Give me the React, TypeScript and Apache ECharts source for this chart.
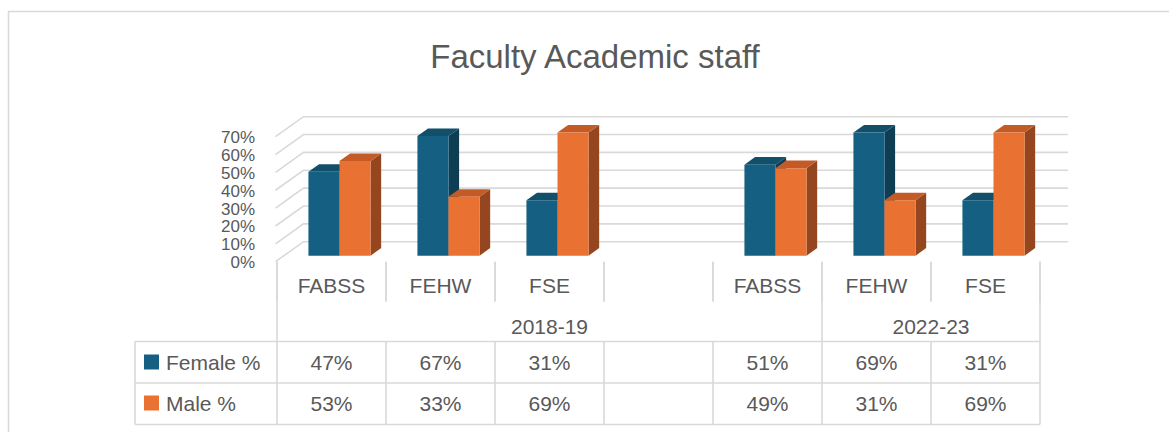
import React, { useEffect, useRef } from "react";
import * as echarts from "echarts";

const categories = ["FABSS", "FEHW", "FSE", "", "FABSS", "FEHW", "FSE"];
const groupLabels = ["2018-19", "2022-23"];
const groupSpans = [5, 2];
const seriesNames = ["Female %", "Male %"];
const femaleValues = [47, 67, 31, null, 51, 69, 31];
const maleValues = [53, 33, 69, null, 49, 31, 69];
const yMin = 0;
const yMax = 70;
const yInterval = 10;
const yTickValues = [0, 10, 20, 30, 40, 50, 60, 70];

const FONT = "Liberation Sans";
const FS = 21;
const TXT = "#595959";
const GRID_C = "#D9D9D9";
const faces = [
  { front: "#156082", top: "#114F6B", side: "#0D3E54" },
  { front: "#E97132", top: "#C45B26", side: "#95461E" },
];

// layout
const W = 1169;
const H = 432;
const GL = 277;
const GR = 1040;
const GT = 136.7;
const GB = 261.7;
const DX = 28;
const DY = -20;
const BAR_OX = 8;
const BAR_OY = -6;
const BAR_DX = 10.6;
const BAR_DY = -7.6;
const BAR_FRAC = 0.285;

export default function App() {
  const ref = useRef<HTMLDivElement>(null);
  useEffect(() => {
    document.body.style.margin = "0";
    if (!ref.current) return;
    const chart = echarts.init(ref.current, undefined, { renderer: "svg" });

    const wallRender = (params: any, api: any) => {
      const cs = params.coordSys;
      const v = api.value(0);
      const y = api.coord([0, v])[1];
      const x0 = cs.x - 1.5;
      return {
        type: "group",
        children: [
          {
            type: "polyline",
            shape: {
              points: [
                [x0, y],
                [x0 + DX, y + DY],
                [cs.x + cs.width + DX, y + DY],
              ],
            },
            style: { stroke: GRID_C, lineWidth: 1.6, fill: "none" },
            silent: true,
          },
          {
            type: "text",
            x: cs.x - 22,
            y: y + 1,
            style: {
              text: `${v}%`,
              font: `17px "${FONT}"`,
              fill: TXT,
              align: "right",
              verticalAlign: "middle",
              lineHeight: 16,
            },
          },
        ],
      };
    };

    const barRender = (si: number) => (params: any, api: any) => {
      const i = api.value(0);
      const v = api.value(1);
      if (v == null || isNaN(v)) return null;
      const top = api.coord([i, v]);
      const base = api.coord([i, 0]);
      const band = api.size([1, 0])[0];
      const bw = band * BAR_FRAC;
      const cx = top[0];
      const x0 = (si === 0 ? cx - bw : cx) + BAR_OX;
      const yt = top[1] + BAR_OY;
      const yb = base[1] + BAR_OY;
      const f = faces[si];
      return {
        type: "group",
        children: [
          {
            type: "polygon",
            shape: {
              points: [
                [x0 + bw, yt],
                [x0 + bw + BAR_DX, yt + BAR_DY],
                [x0 + bw + BAR_DX, yb + BAR_DY],
                [x0 + bw, yb],
              ],
            },
            style: { fill: f.side },
          },
          {
            type: "polygon",
            shape: {
              points: [
                [x0, yt],
                [x0 + bw, yt],
                [x0 + bw + BAR_DX, yt + BAR_DY],
                [x0 + BAR_DX, yt + BAR_DY],
              ],
            },
            style: { fill: f.top },
          },
          {
            type: "rect",
            shape: { x: x0, y: yt, width: bw, height: yb - yt },
            style: { fill: f.front },
          },
        ],
      };
    };

    const colW = (GR - GL) / categories.length;
    const colX = (k: number) => GL + k * colW;
    const rowTop = GB;
    const rowCat = 301;
    const rowGrp = 341.5;
    const row1 = 383;
    const row2 = 424.5;
    const tableLeft = 135;
    const lineStyle = { stroke: GRID_C, lineWidth: 1.6 };
    const g: any[] = [];
    g.push({
      type: "rect",
      shape: { x: 8.5, y: 11.5, width: 1300, height: 600 },
      style: { stroke: GRID_C, lineWidth: 1.5, fill: "none" },
      silent: true,
    });
    g.push({
      type: "text",
      x: 595,
      y: 56,
      style: {
        text: "Faculty Academic staff",
        font: `33px "${FONT}"`,
        fill: TXT,
        align: "center",
        verticalAlign: "middle",
      },
    });
    [rowGrp, row1, row2].forEach((y) =>
      g.push({ type: "line", shape: { x1: tableLeft, y1: y, x2: GR, y2: y }, style: lineStyle })
    );
    g.push({ type: "line", shape: { x1: tableLeft, y1: rowGrp, x2: tableLeft, y2: row2 }, style: lineStyle });
    let acc = 0;
    const groupBounds = [0];
    groupSpans.forEach((s) => {
      acc += s;
      groupBounds.push(acc);
    });
    for (let k = 0; k <= categories.length; k++) {
      const x = colX(k);
      if (groupBounds.includes(k)) {
        g.push({ type: "line", shape: { x1: x, y1: rowTop, x2: x, y2: row2 }, style: lineStyle });
      } else {
        g.push({ type: "line", shape: { x1: x, y1: rowTop, x2: x, y2: rowCat }, style: lineStyle });
        g.push({ type: "line", shape: { x1: x, y1: rowGrp, x2: x, y2: row2 }, style: lineStyle });
      }
    }
    groupLabels.forEach((lab, gi) => {
      const cx = (colX(groupBounds[gi]) + colX(groupBounds[gi + 1])) / 2;
      g.push({
        type: "text",
        x: cx,
        y: 326,
        style: { text: lab, font: `${FS}px "${FONT}"`, fill: TXT, align: "center", verticalAlign: "middle" },
      });
    });
    [femaleValues, maleValues].forEach((vals, si) => {
      const yc = si === 0 ? 362 : 403;
      g.push({
        type: "rect",
        shape: { x: 144, y: yc - 7.5, width: 15, height: 15 },
        style: { fill: faces[si].front },
      });
      g.push({
        type: "text",
        x: 166,
        y: yc,
        style: { text: seriesNames[si], font: `${FS}px "${FONT}"`, fill: TXT, align: "left", verticalAlign: "middle" },
      });
      vals.forEach((v, k) => {
        if (v == null) return;
        g.push({
          type: "text",
          x: colX(k) + colW / 2,
          y: yc,
          style: { text: `${v}%`, font: `${FS}px "${FONT}"`, fill: TXT, align: "center", verticalAlign: "middle" },
        });
      });
    });

    chart.setOption({
      animation: false,
      grid: { left: GL, top: GT, width: GR - GL, height: GB - GT, containLabel: false },
      xAxis: {
        type: "category",
        data: categories,
        boundaryGap: true,
        axisLine: { show: false },
        axisTick: { show: true, length: 40, lineStyle: { color: GRID_C, width: 1.6 } },
        axisLabel: { show: true, margin: 13, fontSize: FS, fontFamily: FONT, color: TXT, interval: 0 },
        splitLine: { show: false },
      },
      yAxis: {
        type: "value",
        min: yMin,
        max: yMax,
        interval: yInterval,
        axisLine: { show: false },
        axisTick: { show: false },
        splitLine: { show: false },
        axisLabel: { show: false },
      },
      graphic: g,
      series: [
        {
          type: "custom",
          name: "wall",
          renderItem: wallRender,
          data: yTickValues.map((v) => [v]),
          encode: { y: 0 },
          silent: true,
          z: 1,
        },
        {
          type: "custom",
          name: seriesNames[0],
          renderItem: barRender(0),
          data: femaleValues.map((v, i) => [i, v == null ? NaN : v]),
          encode: { x: 0, y: 1 },
          z: 2,
        },
        {
          type: "custom",
          name: seriesNames[1],
          renderItem: barRender(1),
          data: maleValues.map((v, i) => [i, v == null ? NaN : v]),
          encode: { x: 0, y: 1 },
          z: 3,
        },
      ],
    });
    return () => chart.dispose();
  }, []);
  return <div ref={ref} style={{ width: W, height: H }} />;
}
